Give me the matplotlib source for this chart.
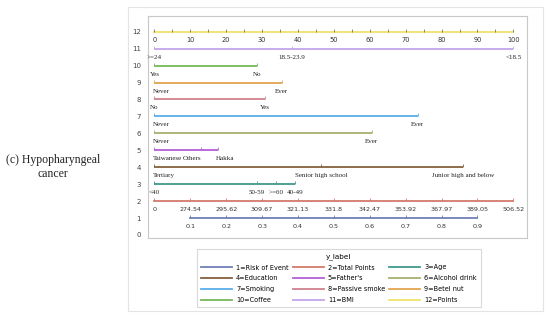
import matplotlib as mpl
mpl.use('Agg')
import matplotlib.pyplot as plt
from matplotlib.patches import Rectangle
from matplotlib.lines import Line2D

# points scale, 0-100
points_ticks = [0, 10, 20, 30, 40, 50, 60, 70, 80, 90, 100]
points_minor = list(range(0, 101, 5))

bmi_labels = ['>=24', '18.5-23.9', '<18.5']
bmi_pts = [0, 38.4, 100]
coffee_labels = ['Yes', 'No']
coffee_pts = [0, 28.7]
betel_labels = ['Never', 'Ever']
betel_pts = [0, 35.5]
passive_labels = ['No', 'Yes']
passive_pts = [0, 30.8]
smoking_labels = ['Never', 'Ever']
smoking_pts = [0, 73.3]
alcohol_labels = ['Never', 'Ever']
alcohol_pts = [0, 60.5]
father_labels = ['Taiwanese', 'Others', 'Hakka']
father_pts = [0, 13.0, 17.7]
edu_labels = ['Tertiary', 'Senior high school', 'Junior high and below']
edu_pts = [0, 46.4, 85.9]
age_labels = ['<40', '50-59', '>=60', '40-49']
age_pts = [0, 28.5, 33.8, 39.2]

total_labels = ['0', '274.54', '295.62', '309.67', '321.13', '331.8',
                '342.47', '353.92', '367.97', '389.05', '506.52']
risk_labels = ['0.1', '0.2', '0.3', '0.4', '0.5', '0.6', '0.7', '0.8', '0.9']
risk_pts = [10, 20, 30, 40, 50, 60, 70, 80, 90]

legend_names = ['1=Risk of Event', '2=Total Points', '3=Age', '4=Education',
                "5=Father's", '6=Alcohol drink', '7=Smoking', '8=Passive smoke',
                '9=Betel nut', '10=Coffee', '11=BMI', '12=Points']
colors = ['#6f7fb8', '#d27b6c', '#3f9a8e', '#86603f', '#b45fd8', '#a9b06c',
          '#5aaeea', '#d1808f', '#e3a552', '#76b85a', '#c3a6ec', '#f1e26a']

fig = plt.figure(figsize=(5.5, 3.27), dpi=100)
fig.patches.append(Rectangle((128/550, 1-311/327), 415/550, 304/327, transform=fig.transFigure,
                             fill=False, ec='#e3e3e8', lw=0.8))
ax = fig.add_axes([148/550, 1-238/327, 379/550, 222/327])
ax.set_xlim(-1.8, 103.8)
ax.set_ylim(-0.18, 12.93)
ax.set_xticks([])
ax.set_yticks(range(13))
ax.tick_params(axis='y', labelsize=5, length=0, pad=5, labelcolor='#444444')
for s in ax.spines.values():
    s.set_color('#c8c8c8')
    s.set_linewidth(0.8)

serif = 'Liberation Serif'
lw = 1.3
off = 0.5


def cat_row(y, pts, labels, c, has=None):
    ax.plot([min(pts), max(pts)], [y, y], color=c, lw=lw, solid_capstyle='butt')
    ax.plot(pts, [y]*len(pts), ls='none', marker=2, ms=2, mew=0.6, color=c)
    for i, (p, t) in enumerate(zip(pts, labels)):
        ha = 'center'
        if i == 0 and len(t) > 4:
            ha = 'left'
        if has is not None:
            ha = has[i]
        dx = {'left': -0.5, 'right': 0.2, 'center': 0}[ha]
        ax.text(p + dx, y - off, t, ha=ha, va='center',
                fontsize=5.0, family=serif, color='#222222')


# 12 points
ax.plot([0, 100], [12, 12], color=colors[11], lw=lw)
ax.plot(points_minor, [12]*len(points_minor), ls='none', marker=2, ms=2, mew=0.6, color='#777755')
for p in points_ticks:
    ax.text(p, 12 - off, str(p), ha='center', va='center', fontsize=4.8, color='#333333')

cat_row(11, bmi_pts, bmi_labels, colors[10])
cat_row(10, coffee_pts, coffee_labels, colors[9])
cat_row(9, betel_pts, betel_labels, colors[8])
cat_row(8, passive_pts, passive_labels, colors[7])
cat_row(7, smoking_pts, smoking_labels, colors[6])
cat_row(6, alcohol_pts, alcohol_labels, colors[5])
cat_row(5, father_pts, father_labels, colors[4], has=['left', 'right', 'left'])
cat_row(4, edu_pts, edu_labels, colors[3])
cat_row(3, age_pts, age_labels, colors[2])

# 2 total points
ax.plot([0, 100], [2, 2], color=colors[1], lw=lw)
ax.plot(points_ticks, [2]*len(points_ticks), ls='none', marker=2, ms=2, mew=0.6, color=colors[1])
for p, t in zip(points_ticks, total_labels):
    ax.text(p, 2 - off, t, ha='center', va='center', fontsize=4.6, color='#333333')

# 1 risk of event
ax.plot([min(risk_pts), max(risk_pts)], [1, 1], color=colors[0], lw=lw)
ax.plot(risk_pts, [1]*len(risk_pts), ls='none', marker=2, ms=2, mew=0.6, color=colors[0])
for p, t in zip(risk_pts, risk_labels):
    ax.text(p, 1 - off, t, ha='center', va='center', fontsize=4.6, color='#333333')

# legend fills column by column -> reorder so it reads row by row
order = [0, 3, 6, 9, 1, 4, 7, 10, 2, 5, 8, 11]
handles = [Line2D([], [], color=colors[i], lw=lw) for i in order]
names = [legend_names[i] for i in order]
leg = fig.legend(handles, names, title='y_label', ncol=3,
                 loc='upper left', bbox_to_anchor=(194/550, 1-246/327),
                 fontsize=4.7, title_fontsize=5.2, frameon=True, fancybox=False,
                 handlelength=4.8, handletextpad=0.6, columnspacing=0.6,
                 labelspacing=0.75, borderpad=0.55)
leg.get_frame().set_edgecolor('#d0d0d0')
leg.get_frame().set_linewidth(0.8)

fig.text(53/550, 1-167/327, '(c) Hypopharyngeal\ncancer', ha='center', va='center',
         fontsize=8.5, family=serif, linespacing=1.2, color='#222222')

fig.savefig('out.png', dpi=100)
